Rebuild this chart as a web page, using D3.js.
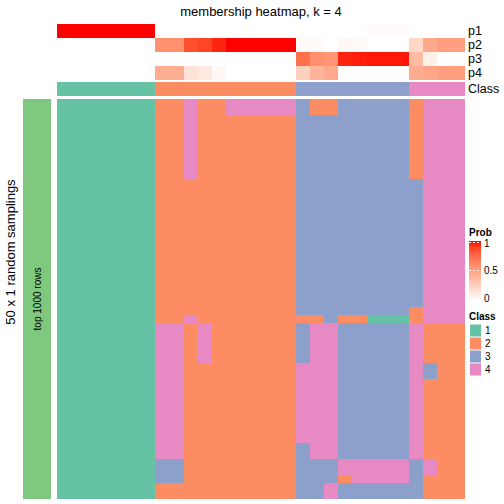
<!DOCTYPE html>
<html>
<head>
<meta charset="utf-8">
<script src="https://cdn.jsdelivr.net/npm/d3@7"></script>
<style>
  html, body { margin: 0; padding: 0; background: #fff; }
  svg { display: block; font-family: "Liberation Sans", Arial, Helvetica, sans-serif; }
</style>
</head>
<body>
<svg id="chart" width="504" height="504"></svg>
<script>
// ---------------- DATA ----------------
const title = "membership heatmap, k = 4";
const classLabels = ["1", "2", "3", "4"];
const classColors = ["#66C2A5", "#FC8D62", "#8DA0CB", "#E78AC3"];
const probRowNames = ["p1", "p2", "p3", "p4"];

// class of each of the 29 columns (top "Class" annotation)
const columnClass = [1,1,1,1,1,1,1, 2,2,2,2,2,2,2,2,2,2, 3,3,3,3,3,3,3,3, 4,4,4,4];

// membership probabilities per column
const p1 = [1,1,1,1,1,1,1, 0,0,0,0,0,0,0,0,0,0, 0,0,0,0,0,0.02,0.02,0.02, 0,0,0,0];
const p2 = [0,0,0,0,0,0,0, 0.57,0.57,0.85,0.88,0.96,1,1,1,1,1, 0.03,0.03,0,0.04,0.03,0,0,0, 0.21,0.45,0.5,0.5];
const p3 = [0,0,0,0,0,0,0, 0,0,0,0,0,0,0,0,0,0, 0.72,0.57,0.55,0.96,0.97,0.98,0.98,0.98, 0.36,0.08,0,0];
const p4 = [0,0,0,0,0,0,0, 0.43,0.43,0.15,0.12,0.04,0,0,0,0,0, 0.25,0.40,0.45,0,0,0,0,0, 0.43,0.47,0.5,0.5];

// 50 random samplings (rows) x 29 columns: predicted class
const samplingRows = [
  "11111112242244444322333332444",
  "11111112242244444322333332444",
  "11111112242222222333333332444",
  "11111112242222222333333332444",
  "11111112242222222333333332444",
  "11111112242222222333333332444",
  "11111112242222222333333332444",
  "11111112242222222333333332444",
  "11111112242222222333333332444",
  "11111112242222222333333332444",
  "11111112222222222333333333444",
  "11111112222222222333333333444",
  "11111112222222222333333333444",
  "11111112222222222333333333444",
  "11111112222222222333333333444",
  "11111112222222222333333333444",
  "11111112222222222333333333444",
  "11111112222222222333333333444",
  "11111112222222222333333333444",
  "11111112222222222333333333444",
  "11111112222222222333333333444",
  "11111112222222222333333333444",
  "11111112222222222333333333444",
  "11111112222222222333333333444",
  "11111112222222222333333333444",
  "11111112222222222333333333444",
  "11111112222222222333333332444",
  "11111112242222222223221112444",
  "11111114424222222344333334222",
  "11111114424222222344333334222",
  "11111114424222222344333334222",
  "11111114424222222344333334222",
  "11111114424222222344333334222",
  "11111114422222222444333334322",
  "11111114422222222444333334322",
  "11111114422222222444333334222",
  "11111114422222222444333334222",
  "11111114422222222444333334222",
  "11111114422222222444333334222",
  "11111114422222222444333334222",
  "11111114422222222444333334222",
  "11111114422222222444333334222",
  "11111114422222222444333334222",
  "11111114422222222344333334222",
  "11111114422222222344333334222",
  "11111113322222222333444443422",
  "11111113322222222333444443422",
  "11111113322222222333244443222",
  "11111112222222222334333333222",
  "11111112222222222334333333222"
];

const probTicks = [0, 0.5, 1];
const probTickLabels = ["0", "0.5", "1"];
const rowTitle = "50 x 1 random samplings";
const sideLabel = "top 1000 rows";
const sideColor = "#7FC97F";

// ---------------- DRAW ----------------
const svg = d3.select("#chart");
const nCol = columnClass.length;
const colIdx = d3.range(nCol);

const x = d3.scaleBand().domain(colIdx).range([57, 465]).padding(0);
const yAnno = d3.scaleBand().domain(probRowNames).range([24, 80]).padding(0);
const yMain = d3.scaleBand().domain(d3.range(samplingRows.length)).range([99, 499]).padding(0);
const classColor = d3.scaleOrdinal().domain([1,2,3,4]).range(classColors);
const probColor = d3.scaleLinear().domain([0, 1]).range(["#FFFFFF", "#FF0000"]).interpolate(d3.interpolateLab);

// title
svg.append("text")
  .attr("x", (57 + 465) / 2).attr("y", 16)
  .attr("text-anchor", "middle")
  .attr("font-size", 13)
  .text(title);

// probability annotation rows
const probs = [p1, p2, p3, p4];
const annoG = svg.append("g").attr("shape-rendering", "crispEdges");
probs.forEach((arr, i) => {
  annoG.selectAll(null).data(arr).join("rect")
    .attr("x", (d, j) => x(j))
    .attr("y", yAnno(probRowNames[i]))
    .attr("width", x.bandwidth() + 0.3)
    .attr("height", yAnno.bandwidth())
    .attr("fill", d => probColor(d));
});
// class annotation row
annoG.selectAll(null).data(columnClass).join("rect")
  .attr("x", (d, j) => x(j))
  .attr("y", 82)
  .attr("width", x.bandwidth() + 0.3)
  .attr("height", 14)
  .attr("fill", d => classColor(d));

// annotation names
const annoNames = probRowNames.map(n => ({ name: n, y: yAnno(n) + yAnno.bandwidth() / 2 }))
  .concat([{ name: "Class", y: 89 }]);
svg.selectAll(".annoName").data(annoNames).join("text")
  .attr("class", "annoName")
  .attr("x", 468).attr("y", d => d.y)
  .attr("dominant-baseline", "central")
  .attr("font-size", 12.5)
  .text(d => d.name);

// main heatmap
const cells = [];
samplingRows.forEach((row, r) => {
  row.split("").forEach((ch, c) => cells.push({ r, c, v: +ch }));
});
svg.append("g").attr("shape-rendering", "crispEdges")
  .selectAll("rect").data(cells).join("rect")
  .attr("x", d => x(d.c))
  .attr("y", d => yMain(d.r))
  .attr("width", x.bandwidth() + 0.3)
  .attr("height", yMain.bandwidth() + 0.3)
  .attr("fill", d => classColor(d.v));

// left side bar
svg.append("rect")
  .attr("x", 23).attr("y", yMain.range()[0])
  .attr("width", 28).attr("height", yMain.range()[1] - yMain.range()[0])
  .attr("fill", sideColor);
svg.append("text")
  .attr("transform", `translate(37,${(yMain.range()[0] + yMain.range()[1]) / 2}) rotate(-90)`)
  .attr("text-anchor", "middle").attr("dominant-baseline", "central")
  .attr("font-size", 10)
  .text(sideLabel);
svg.append("text")
  .attr("transform", `translate(10,252) rotate(-90)`)
  .attr("text-anchor", "middle").attr("dominant-baseline", "central")
  .attr("font-size", 13)
  .text(rowTitle);

// Prob legend
const legX = 469;
svg.append("text").attr("x", legX).attr("y", 236)
  .attr("font-size", 10).attr("font-weight", "bold").text("Prob");
const gy = d3.scaleLinear().domain([0, 1]).range([300, 241]);
const defs = svg.append("defs");
const grad = defs.append("linearGradient").attr("id", "probGrad")
  .attr("x1", 0).attr("y1", 1).attr("x2", 0).attr("y2", 0);
grad.selectAll("stop").data(d3.range(0, 1.0001, 0.1)).join("stop")
  .attr("offset", d => d)
  .attr("stop-color", d => probColor(d));
svg.append("rect").attr("x", legX).attr("y", gy(1)).attr("width", 12)
  .attr("height", gy(0) - gy(1)).attr("fill", "url(#probGrad)");
svg.selectAll(".ptick").data(probTicks).join("g").attr("class", "ptick")
  .each(function(d, i) {
    const g = d3.select(this);
    const yy = Math.min(Math.max(gy(d), gy(1) + 2), gy(0) - 2);
    g.append("line").attr("x1", legX).attr("x2", legX + 12)
      .attr("y1", gy(d) + (d === 1 ? 1.5 : 0)).attr("y2", gy(d) + (d === 1 ? 1.5 : 0))
      .attr("stroke", "#fff").attr("stroke-width", 1).attr("stroke-dasharray", "2,2");
    g.append("text").attr("x", legX + 15).attr("y", yy)
      .attr("dominant-baseline", "central").attr("font-size", 10)
      .text(probTickLabels[i]);
  });

// Class legend
svg.append("text").attr("x", legX).attr("y", 320)
  .attr("font-size", 10).attr("font-weight", "bold").text("Class");
const ly = d3.scaleBand().domain(classLabels).range([324, 376]);
svg.selectAll(".lkey").data(classLabels).join("rect").attr("class", "lkey")
  .attr("x", legX + 1).attr("y", d => ly(d) + 0.5)
  .attr("width", 11).attr("height", ly.bandwidth() - 1)
  .attr("fill", (d, i) => classColors[i]);
svg.selectAll(".llab").data(classLabels).join("text").attr("class", "llab")
  .attr("x", legX + 16).attr("y", d => ly(d) + ly.bandwidth() / 2)
  .attr("dominant-baseline", "central").attr("font-size", 10)
  .text(d => d);
</script>
</body>
</html>
